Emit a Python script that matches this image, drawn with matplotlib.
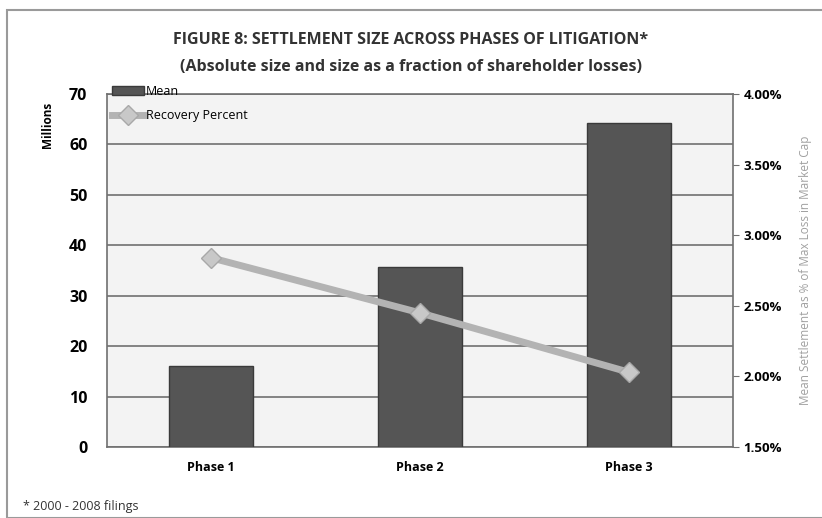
import numpy as np
import matplotlib.pyplot as plt
from matplotlib.patches import Rectangle
from matplotlib.ticker import FuncFormatter

phases = ['Phase 1', 'Phase 2', 'Phase 3']
mean_settlement = [16.0, 35.7, 64.2]
recovery_pct = [2.84, 2.45, 2.03]

plt.rcParams['font.family'] = ['Open Sans', 'DejaVu Sans']

fig = plt.figure(figsize=(8.22, 5.18), dpi=100)
fig.patch.set_facecolor('white')
fig.patches.append(Rectangle((0.009, 0.0), 0.995, 0.98, transform=fig.transFigure,
                             fill=False, edgecolor='#9a9a9a', linewidth=1.5))

ax = fig.add_axes([0.130, 0.137, 0.762, 0.6815])
ax.set_facecolor('#f3f3f3')
x = np.arange(len(phases))
ax.bar(x, mean_settlement, width=0.40, color='#555555', edgecolor='#3a3a3a',
       linewidth=1.0, label='Mean', zorder=3)
ax.set_xlim(-0.5, 2.5)
ax.set_ylim(0, 70)
ax.set_yticks(range(0, 71, 10))
ax.grid(axis='y', color='#707070', linewidth=1.2, zorder=0)
ax.set_xticks(x)
ax.set_xticklabels(phases, fontsize=9, fontweight='bold')
ax.tick_params(axis='x', length=0, pad=10)
ax.tick_params(axis='y', length=0, labelsize=11.5, pad=14)
for lab in ax.get_yticklabels():
    lab.set_fontweight('bold')
ax.set_ylabel('Millions', fontsize=8.5, fontweight='bold')
ax.yaxis.set_label_coords(-0.085, 0.912)
for s in ax.spines.values():
    s.set_color('#707070')
    s.set_linewidth(1.2)

ax2 = ax.twinx()
ax2.plot(x, recovery_pct, color='#b3b3b3', linewidth=5, marker='D', markersize=10,
         markerfacecolor='#c8c8c8', markeredgecolor='#a8a8a8', label='Recovery Percent', zorder=4)
ax2.set_ylim(1.5, 4.0)
ax2.set_yticks(np.arange(1.5, 4.01, 0.5))
ax2.yaxis.set_major_formatter(FuncFormatter(lambda v, p: f'{v:.2f}%'))
ax2.tick_params(axis='y', length=4, color='#707070', labelsize=9.5)
for lab in ax2.get_yticklabels():
    lab.set_fontweight('bold')
ax2.set_ylabel('Mean Settlement as % of Max Loss in Market Cap', fontsize=8.5,
               color='#a0a0a0', labelpad=12)
for s in ax2.spines.values():
    s.set_visible(False)

h1, l1 = ax.get_legend_handles_labels()
h2, l2 = ax2.get_legend_handles_labels()
ax2.legend(h1 + h2, l1 + l2, loc='upper left', bbox_to_anchor=(0.0, 1.04), frameon=False,
           fontsize=9, handlelength=2.6, handletextpad=0.1, labelspacing=0.9, borderaxespad=0)

fig.text(0.5, 0.915, 'FIGURE 8: SETTLEMENT SIZE ACROSS PHASES OF LITIGATION*',
         ha='center', fontsize=11.5, fontweight='bold', color='#333333')
fig.text(0.5, 0.862, '(Absolute size and size as a fraction of shareholder losses)',
         ha='center', fontsize=11.5, fontweight='bold', color='#333333')
fig.text(0.028, 0.015, '* 2000 - 2008 filings', fontsize=9, color='#333333')

fig.savefig('out.png', dpi=100)
